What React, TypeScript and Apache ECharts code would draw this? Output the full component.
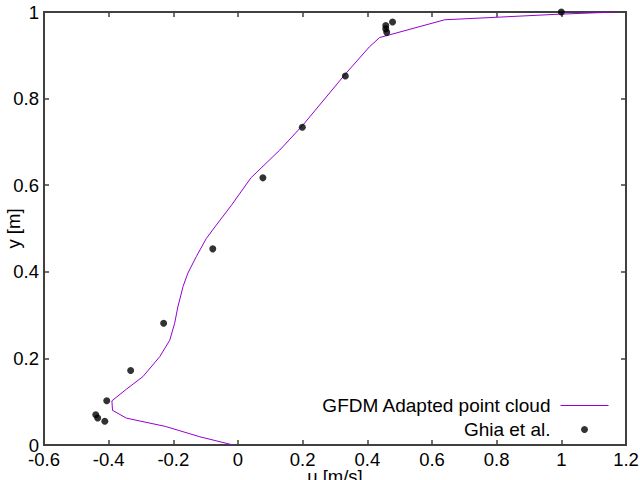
import React, { useEffect, useRef } from "react";
import * as echarts from "echarts";

// Simulation profile (u, y)
const gfdmU = [-0.015, -0.118, -0.225, -0.345, -0.388, -0.39, -0.345, -0.294, -0.242, -0.211, -0.196, -0.186, -0.17, -0.155, -0.129, -0.098, -0.067, -0.02, 0.04, 0.129, 0.201, 0.33, 0.407, 0.438, 0.639, 0.995, 1.17];
const gfdmY = [0, 0.019, 0.043, 0.062, 0.08, 0.102, 0.129, 0.158, 0.204, 0.242, 0.281, 0.319, 0.366, 0.397, 0.435, 0.477, 0.508, 0.554, 0.617, 0.681, 0.739, 0.855, 0.92, 0.941, 0.982, 0.995, 1.0];

// Reference data (Ghia et al.)
const ghiaU = [1.0, 0.478, 0.457, 0.457, 0.46, 0.332, 0.199, 0.077, -0.078, -0.23, -0.332, -0.406, -0.44, -0.434, -0.412];
const ghiaY = [1.0, 0.977, 0.969, 0.961, 0.953, 0.852, 0.734, 0.617, 0.453, 0.281, 0.172, 0.102, 0.07, 0.0625, 0.0547];

const xMin = -0.6, xMax = 1.2, xStep = 0.2;
const yMin = 0, yMax = 1, yStep = 0.2;

const FONT = "'Liberation Sans', Arial, Helvetica, sans-serif";
const AX = "#404040";
const LINE_COLOR = "#9400D3";

export default function App() {
  const ref = useRef<HTMLDivElement>(null);
  useEffect(() => {
    if (!ref.current) return;
    const chart = echarts.init(ref.current, null, { renderer: "svg" });
    const tick = { show: true, inside: true, length: 5, lineStyle: { color: AX, width: 1.5 } };
    const lbl = { color: "#000", fontSize: 18.5, fontFamily: FONT };
    const xBase = { type: "value" as const, min: xMin, max: xMax, interval: xStep, splitLine: { show: false }, axisLine: { show: false, onZero: false }, axisTick: tick };
    const yBase = { type: "value" as const, min: yMin, max: yMax, interval: yStep, splitLine: { show: false }, axisLine: { show: false, onZero: false }, axisTick: tick };
    chart.setOption({
      animation: false,
      backgroundColor: "#fff",
      grid: { left: 44, right: 14, top: 12, bottom: 35, show: true, borderColor: AX, borderWidth: 2, backgroundColor: "transparent", containLabel: false, outerBoundsMode: "none" },
      xAxis: [
        { ...xBase, position: "bottom", axisLabel: { ...lbl, margin: 5 }, name: "u [m/s]", nameLocation: "middle", nameGap: 22, nameMoveOverlap: false, nameTextStyle: lbl },
        { ...xBase, position: "top", axisLabel: { show: false } },
      ],
      yAxis: [
        { ...yBase, position: "left", axisLabel: { ...lbl, margin: 5 }, name: "y [m]", nameLocation: "middle", nameGap: 21, nameMoveOverlap: false, nameTextStyle: lbl },
        { ...yBase, position: "right", axisLabel: { show: false } },
      ],
      legend: {
        orient: "vertical",
        align: "right",
        right: 31,
        top: 396,
        padding: 0,
        itemWidth: 48,
        itemHeight: 7,
        itemGap: 5,
        textStyle: { color: "#000", fontSize: 19, fontFamily: FONT, lineHeight: 19, padding: [0, 5, 0, 0] },
        data: [
          { name: "GFDM Adapted point cloud", itemStyle: { opacity: 0 }, lineStyle: { width: 1, color: LINE_COLOR } },
          { name: "Ghia et al.", icon: "circle", itemStyle: { color: "#000" } },
        ],
      },
      series: [
        {
          name: "GFDM Adapted point cloud",
          type: "line",
          data: gfdmU.map((u, i) => [u, gfdmY[i]]),
          showSymbol: false,
          symbol: "none",
          lineStyle: { color: LINE_COLOR, width: 1 },
          itemStyle: { color: LINE_COLOR },
          clip: true,
          z: 2,
        },
        {
          name: "Ghia et al.",
          type: "scatter",
          data: ghiaU.map((u, i) => [u, ghiaY[i]]),
          symbol: "circle",
          symbolSize: 7,
          itemStyle: { color: "#000" },
          clip: false,
          z: 3,
        },
      ],
    });
    return () => chart.dispose();
  }, []);
  return <div ref={ref} style={{ position: "fixed", left: 0, top: 0, width: 640, height: 480 }} />;
}
